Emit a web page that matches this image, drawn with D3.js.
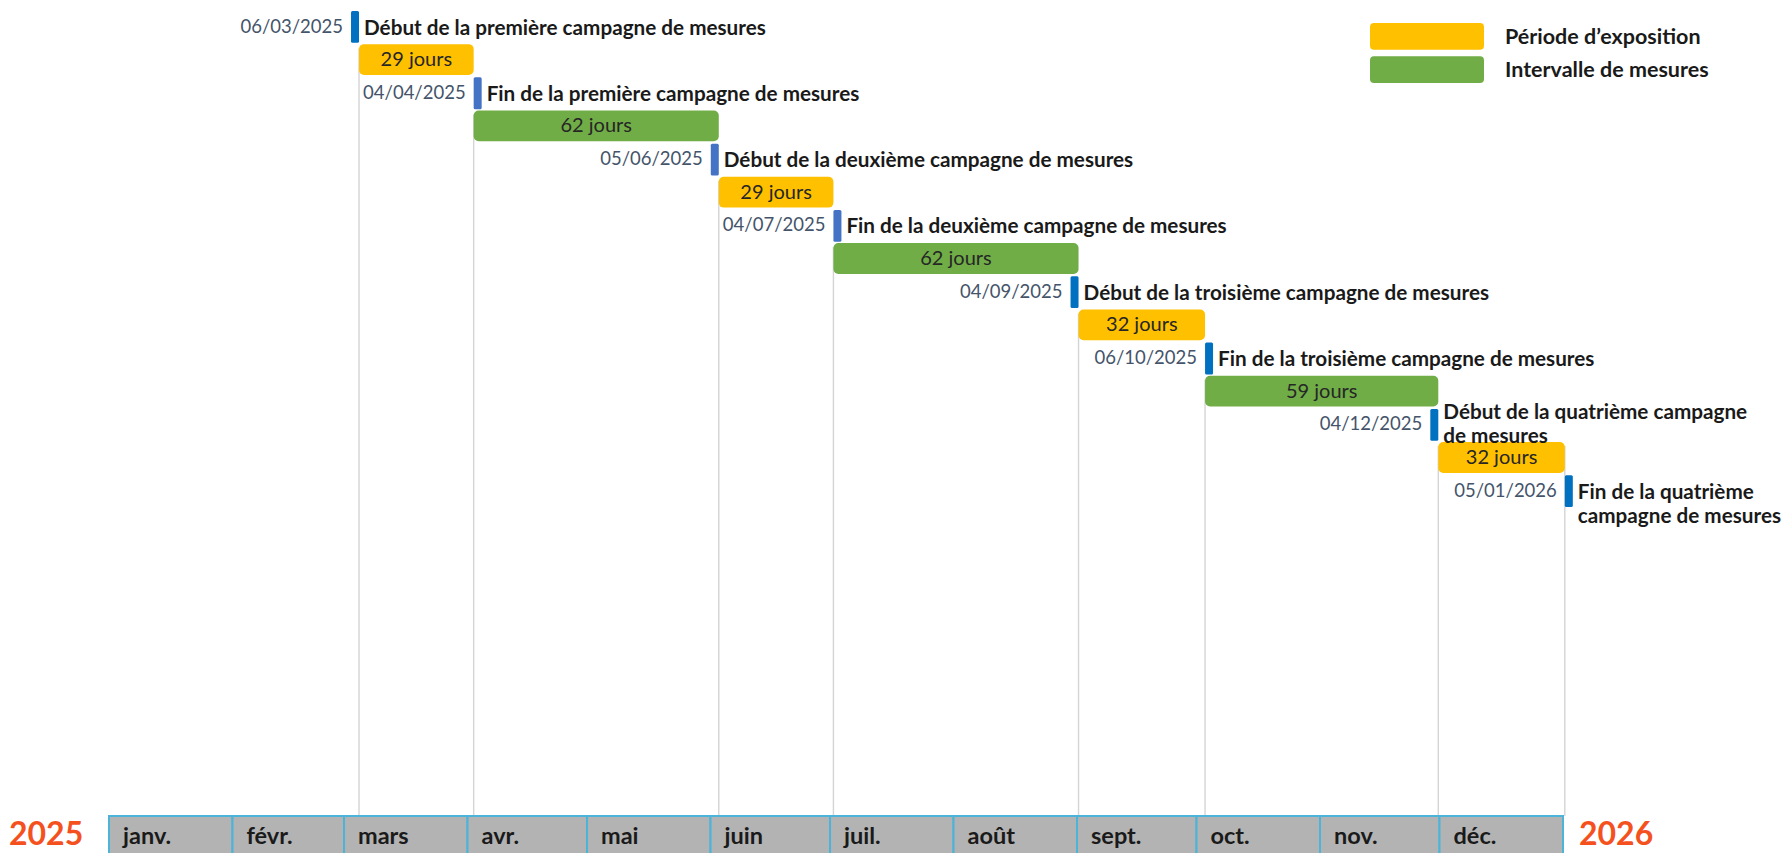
<!DOCTYPE html>
<html>
<head>
<meta charset="utf-8">
<script src="https://cdn.jsdelivr.net/npm/d3@7"></script>
<style>
  html, body { margin: 0; padding: 0; background: #fff; }
  svg { display: block; font-family: Lato, "Noto Sans", sans-serif; }
</style>
</head>
<body>
<svg id="chart" width="1785" height="853"></svg>
<script>
// ---------- data ----------
const eventDates = ["2025-03-06", "2025-04-04", "2025-06-05", "2025-07-04",
                    "2025-09-04", "2025-10-06", "2025-12-04", "2026-01-05"];
const eventLabels = [
  ["Début de la première campagne de mesures"],
  ["Fin de la première campagne de mesures"],
  ["Début de la deuxième campagne de mesures"],
  ["Fin de la deuxième campagne de mesures"],
  ["Début de la troisième campagne de mesures"],
  ["Fin de la troisième campagne de mesures"],
  ["Début de la quatrième campagne", "de mesures"],
  ["Fin de la quatrième", "campagne de mesures"]
];
const periodDays  = [29, 62, 29, 62, 32, 59, 32];
const periodTypes = ["exposition", "intervalle", "exposition", "intervalle",
                     "exposition", "intervalle", "exposition"];
const monthLabels = ["janv.", "févr.", "mars", "avr.", "mai", "juin",
                     "juil.", "août", "sept.", "oct.", "nov.", "déc."];
const yearLabels  = ["2025", "2026"];
const legendLabels = ["Période d’exposition", "Intervalle de mesures"];

// ---------- setup ----------
const svg = d3.select("#chart");
const parse = d3.utcParse("%Y-%m-%d");
const fmt = d3.utcFormat("%d/%m/%Y");
const dates = eventDates.map(parse);

const colors = { exposition: "#FFC000", intervalle: "#70AD47" };
const markerW = 8;

// time scale for events
const x = d3.scaleUtc()
  .domain([Date.UTC(2025, 0, 1), Date.UTC(2026, 0, 1)])
  .range([106, 1549]);
// time scale for month axis
const xm = d3.scaleUtc()
  .domain([Date.UTC(2025, 0, 1), Date.UTC(2026, 0, 1)])
  .range([109, 1563]);

// rows: marker, bar, marker, bar ...
const nRows = eventDates.length + periodDays.length;
const y = d3.scaleBand().domain(d3.range(nRows)).range([11, 11 + nRows * 33.07]).paddingInner(0.04);
const axisTop = 816;

// markers
const markers = dates.map((dt, i) => {
  const prev = i > 0 ? periodTypes[i - 1] : null;
  const px = x(dt);
  const mx0 = prev === "exposition" ? px : px - markerW;
  return { date: dt, x0: mx0, x1: mx0 + markerW, row: 2 * i, label: eventLabels[i], last: i === dates.length - 1,
           color: (i >= 1 && i <= 3) ? "#4472C4" : "#0070C0" };
});
// bars
const bars = periodDays.map((d, i) => {
  const type = periodTypes[i];
  const start = dates[i];
  const end = d3.utcDay.offset(start, d);
  const x0 = type === "intervalle" ? markers[i].x0 : x(start);
  const x1 = x(end);
  return { type, days: d, x0, x1, row: 2 * i + 1 };
});

// ---------- grid lines ----------
const gridXs = bars.map(b => ({ x: b.x0, y: y(b.row) }));
gridXs.push({ x: bars[bars.length - 1].x1, y: y(bars[bars.length - 1].row) });
svg.append("g").selectAll("line").data(gridXs).join("line")
  .attr("x1", d => d.x).attr("x2", d => d.x)
  .attr("y1", d => d.y + 4).attr("y2", axisTop)
  .attr("stroke", "#d4d4d4").attr("stroke-width", 1.4);

// ---------- bars ----------
const gBars = svg.append("g");
gBars.selectAll("rect").data(bars).join("rect")
  .attr("x", d => d.x0).attr("width", d => d.x1 - d.x0)
  .attr("y", d => y(d.row)).attr("height", y.bandwidth() - 1)
  .attr("rx", 5).attr("ry", 5)
  .attr("fill", d => colors[d.type]);
gBars.selectAll("text").data(bars).join("text")
  .attr("x", d => (d.x0 + d.x1) / 2)
  .attr("y", d => y(d.row) + 22)
  .attr("text-anchor", "middle")
  .attr("font-size", 20)
  .attr("fill", "#262626")
  .text(d => `${d.days} jours`);

// ---------- markers ----------
const gM = svg.append("g");
gM.selectAll("rect").data(markers).join("rect")
  .attr("x", d => d.x0).attr("width", d => d.x1 - d.x0)
  .attr("y", d => y(d.row)).attr("height", y.bandwidth())
  .attr("rx", 1.5)
  .attr("fill", d => d.color);
// date labels
gM.selectAll("text.date").data(markers).join("text")
  .attr("class", "date")
  .attr("x", d => d.x0 - 8)
  .attr("y", d => y(d.row) + 21.5)
  .attr("text-anchor", "end")
  .attr("font-size", 18.5)
  .attr("fill", "#44546A")
  .text(d => fmt(d.date));
// event labels
const lh = 24;
gM.selectAll("text.lab").data(markers).join("text")
  .attr("class", "lab")
  .attr("font-size", 20.7)
  .attr("font-weight", "bold")
  .attr("fill", "#1a1a1a")
  .each(function (d) {
    const t = d3.select(this);
    const n = d.label.length;
    const baseY = (n > 1 && !d.last)
      ? y(d.row) + y.bandwidth() / 2 - (n - 1) * lh / 2 + 6
      : y(d.row) + 23.5;
    d.label.forEach((line, k) => {
      t.append("tspan").attr("x", d.x1 + 5).attr("y", baseY + k * lh).text(line);
    });
  });

// ---------- month axis ----------
const months = d3.utcMonths(Date.UTC(2025, 0, 1), Date.UTC(2026, 0, 1));
const gA = svg.append("g");
gA.selectAll("rect").data(months).join("rect")
  .attr("x", d => xm(d))
  .attr("width", d => xm(d3.utcMonth.offset(d, 1)) - xm(d))
  .attr("y", axisTop).attr("height", 60)
  .attr("fill", "#B3B3B3")
  .attr("stroke", "#4BB4D8").attr("stroke-width", 2);
gA.selectAll("text").data(months).join("text")
  .attr("x", d => xm(d) + 14)
  .attr("y", 844)
  .attr("font-size", 23.5)
  .attr("font-weight", "bold")
  .attr("fill", "#1a1a1a")
  .text((d, i) => monthLabels[i]);

// years
svg.append("text").attr("x", 9).attr("y", 845)
  .attr("font-size", 32).attr("font-weight", "bold").attr("fill", "#F4511E")
  .text(yearLabels[0]);
svg.append("text").attr("x", 1579).attr("y", 845)
  .attr("font-size", 32).attr("font-weight", "bold").attr("fill", "#F4511E")
  .text(yearLabels[1]);

// ---------- legend ----------
const legendTypes = ["exposition", "intervalle"];
const ly = d3.scaleBand().domain(d3.range(2)).range([23, 83]).paddingInner(0.2);
const gL = svg.append("g");
gL.selectAll("rect").data(legendTypes).join("rect")
  .attr("x", 1370).attr("width", 114)
  .attr("y", (d, i) => ly(i)).attr("height", ly.bandwidth())
  .attr("rx", 4)
  .attr("fill", d => colors[d]);
gL.selectAll("text").data(legendLabels).join("text")
  .attr("x", 1505)
  .attr("y", (d, i) => ly(i) + 21)
  .attr("font-size", 21.5).attr("font-weight", "bold").attr("fill", "#1a1a1a")
  .text(d => d);
</script>
</body>
</html>
